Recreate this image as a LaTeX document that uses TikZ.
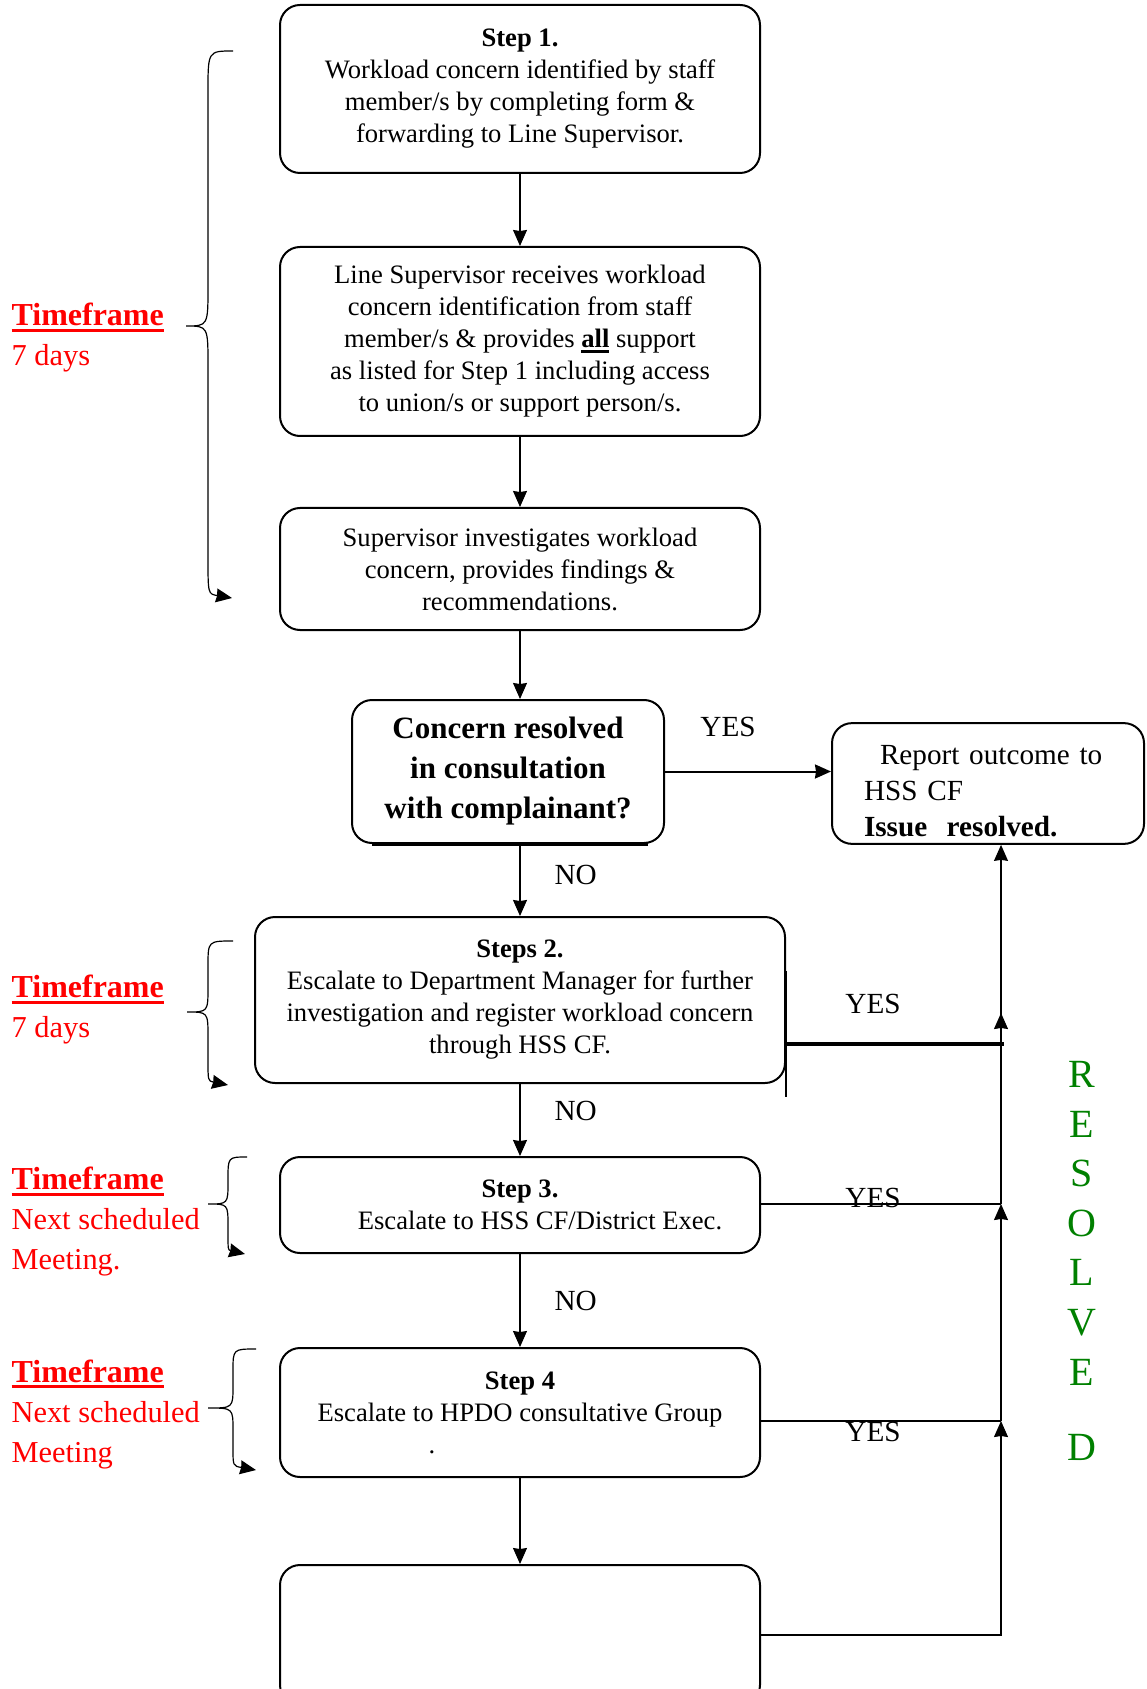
\documentclass[tikz,border=0pt]{standalone}
\usepackage{fontspec}
\setmainfont{Liberation Serif}
\usetikzlibrary{arrows.meta,positioning}
\definecolor{resgreen}{RGB}{0,128,0}
\newcommand{\ulthick}[2]{\setbox0\hbox{#2}\rlap{\rule[-#1]{\wd0}{1.4pt}}\box0{}}

\begin{document}
\begin{tikzpicture}[x=0.5pt,y=-0.5pt,>={Stealth[length=8pt,width=7pt,inset=0.5pt]},semithick,
    step node/.style={draw,line width=1pt,rounded corners=10pt,minimum width=240pt,align=center,inner sep=3pt,font=\fontsize{13.3}{16}\selectfont},
    ask node/.style={draw,line width=1pt,rounded corners=10pt,minimum width=156pt,minimum height=71.5pt,align=center,inner sep=2pt,font=\fontsize{15.5}{20}\selectfont\bfseries},
    report node/.style={draw,line width=1pt,rounded corners=10pt,text width=124pt,inner xsep=16pt,minimum height=59.5pt,align=left,font=\fontsize{14.6}{18}\selectfont},
    answer node/.style={inner sep=0pt,font=\fontsize{14.6}{17}\selectfont},
    time node/.style={anchor=west,inner sep=0pt,align=left,text=red,font=\fontsize{15.2}{20}\selectfont}]

    \useasboundingbox (0,0) rectangle (1146,1689);

    \node[step node, minimum height=84pt] (s1) at (520,89) {\textbf{Step 1.}\\Workload concern identified by staff\\member/s by completing form \&\\forwarding to Line Supervisor.};
    \node[step node, minimum height=94.5pt] (s2) at (520,341.5) {Line Supervisor receives workload\\concern identification from staff\\member/s \& provides \ulthick{2.4pt}{\textbf{all}} support\\as listed for Step 1 including access\\to union/s or support person/s.};
    \node[step node, minimum height=61pt] (s3) at (520,569) {Supervisor investigates workload\\concern, provides findings \&\\recommendations.};
    \node[ask node] (ask) at (508,771.5) {Concern resolved\\in consultation\\with complainant?};
    \node[report node] (rep) at (988,783.5) {\rule{0pt}{17.5pt}\hspace*{8pt}Report outcome to\\HSS CF\\\textbf{Issue\ \ resolved.}};
    \node[step node, minimum width=265pt, minimum height=83pt] (esc2) at (520,1000) {\textbf{Steps 2.}\\Escalate to Department Manager for further\\investigation and register workload concern\\through HSS CF.};
    \node[step node, minimum height=48pt] (esc3) at (520,1205) {\textbf{Step 3.}\\\hspace*{20pt}Escalate to HSS CF/District Exec.};
    \node[step node, minimum height=64.5pt] (esc4) at (520,1412.5) {\textbf{Step 4}\\Escalate to HPDO consultative Group\\\hspace*{-88pt}.};
    \node[step node, minimum height=70pt] (last) at (520,1635) {};

    \node[time node] (tf1) at (11,338) {{\fontsize{16}{20}\selectfont\ulthick{3pt}{\textbf{Timeframe}}}\\7 days};
    \node[time node] (tf2) at (11,1010) {{\fontsize{16}{20}\selectfont\ulthick{3pt}{\textbf{Timeframe}}}\\7 days};
    \node[time node] (tf3) at (11,1222) {{\fontsize{16}{20}\selectfont\ulthick{3pt}{\textbf{Timeframe}}}\\Next scheduled\\Meeting.};
    \node[time node] (tf4) at (11,1414) {{\fontsize{16}{20}\selectfont\ulthick{3pt}{\textbf{Timeframe}}}\\Next scheduled\\Meeting};

    \node[text=resgreen,inner sep=0pt,align=center,font=\fontsize{20}{24.8}\selectfont] (res) at (1082,1261) {R\\E\\S\\O\\L\\V\\E\\[13pt]D};

    \node[answer node] (yes1) at (728,727) {YES};
    \node[answer node] (yes2) at (873,1004) {YES};
    \node[answer node] (yes3) at (873,1198) {YES};
    \node[answer node] (yes4) at (873,1432) {YES};

    \path[->,every node/.style={answer node}]
        (s1) edge (s2)
        (s2) edge (s3)
        (s3.south) edge (s3.south |- ask.north)
        (ask.south -| esc2.north) edge node[pos=0.43, right=17pt] {NO} (esc2.north)
        (esc2) edge node[pos=0.37, right=17pt] {NO} (esc3)
        (esc3) edge node[pos=0.5, right=17pt] {NO} (esc4)
        (esc4) edge (last);

    \draw[->,line width=1pt] (ask.east) -- (ask.east -| rep.west);
    \draw[line width=2pt] ([xshift=10.5pt]ask.south west) -- ([xshift=-8.5pt]ask.south east);

    \coordinate (r2) at (1001,1044);
    \coordinate (r2a) at (1001,1013);
    \coordinate (r3) at (1001,1204);
    \coordinate (r4) at (1001,1421);

    \draw[->] (last.east) -| (r4);
    \draw (esc4.east |- r4) -- (r4);
    \draw[->] (r4) -- (r3);
    \draw (esc3.east |- r3) -- (r3);
    \draw[->] (r3) -- (r2a);
    \draw[line width=2pt] (esc2.east |- r2) -- ([xshift=1.5pt]r2);
    \draw[->] (r2) -- (r2 |- rep.south);
    \draw[line width=1pt] ([yshift=14.5pt]esc2.east) -- ([yshift=-48.5pt]esc2.east);

    \foreach \tx/\ty/\vx/\px/\py/\bx/\by/\h in {233/51/208/186/326/232/598/40, 233/941/208/187/1012/228/1085/25, 247/1157/228/208/1204/245/1254/22, 256/1349/233/208/1408/256/1470/22}
        \draw[->] (\tx,\ty) .. controls (\vx,\ty) .. (\vx,\ty+\h) -- (\vx,\py-\h) .. controls (\vx,\py) .. (\px,\py) .. controls (\vx,\py) .. (\vx,\py+\h) -- (\vx,\by-\h) .. controls (\vx,\by-4) .. (\bx,\by);
\end{tikzpicture}
\end{document}
